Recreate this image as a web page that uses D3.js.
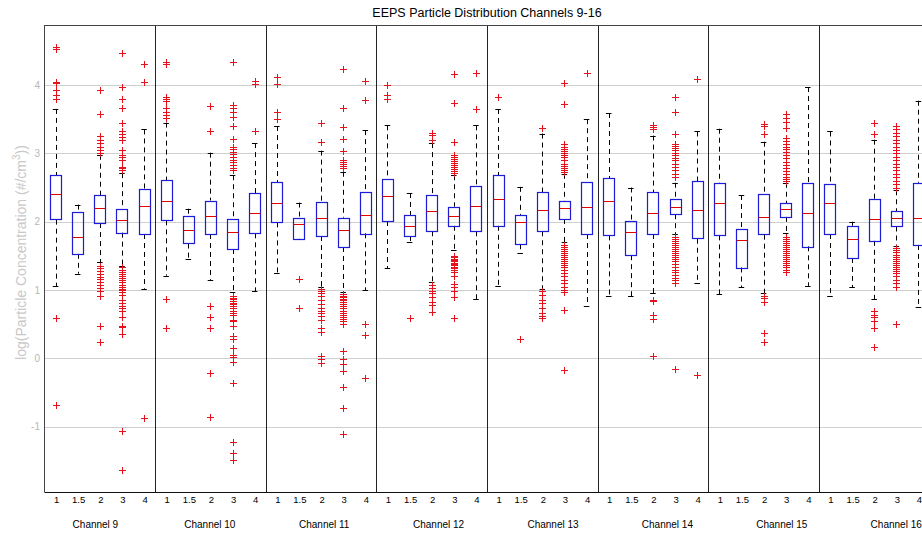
<!DOCTYPE html>
<html><head><meta charset="utf-8">
<script src="https://cdn.jsdelivr.net/npm/d3@7/dist/d3.min.js"></script>
<style>
body{margin:0;background:#fff;}
svg{display:block;font-family:"Liberation Sans",Arial,Helvetica,sans-serif;}
</style>
</head><body>
<svg id="chart" width="922" height="536"></svg>
<script>
// ---------- data ----------
const channels = ["Channel 9","Channel 10","Channel 11","Channel 12","Channel 13","Channel 14","Channel 15","Channel 16"];
const groupLabels = ["1","1.5","2","3","4"];
const yTicks = [-1,0,1,2,3,4];
const title = "EEPS Particle Distribution Channels 9-16";

const whiskerHigh = [
  3.65,2.25,2.98,2.71,3.35,
  3.45,2.19,3.01,2.68,3.15,
  3.40,2.28,3.04,2.73,3.34,
  3.41,2.42,3.15,2.68,3.41,
  3.65,2.51,3.29,2.70,3.50,
  3.59,2.50,3.26,2.57,3.32,
  3.36,2.39,3.17,2.57,3.97,
  3.32,2.00,3.20,2.46,3.77];
const q3 = [
  2.68,2.14,2.39,2.19,2.48,
  2.61,2.08,2.31,2.04,2.42,
  2.58,2.06,2.29,2.06,2.44,
  2.63,2.10,2.39,2.22,2.52,
  2.68,2.10,2.43,2.30,2.58,
  2.64,2.01,2.43,2.33,2.59,
  2.56,1.90,2.40,2.27,2.57,
  2.55,1.94,2.33,2.15,2.57];
const medians = [
  2.40,1.77,2.20,2.03,2.23,
  2.30,1.88,2.09,1.85,2.12,
  2.27,1.97,2.06,1.88,2.10,
  2.38,1.94,2.16,2.08,2.23,
  2.33,1.99,2.17,2.20,2.21,
  2.31,1.85,2.12,2.22,2.17,
  2.28,1.73,2.07,2.18,2.12,
  2.28,1.74,2.04,2.05,2.06];
const q1 = [
  2.03,1.53,1.98,1.84,1.82,
  2.02,1.68,1.82,1.60,1.83,
  1.99,1.75,1.79,1.63,1.83,
  2.01,1.79,1.86,1.94,1.86,
  1.94,1.67,1.86,2.04,1.82,
  1.80,1.51,1.82,2.11,1.75,
  1.80,1.33,1.81,2.07,1.64,
  1.82,1.47,1.72,1.93,1.66];
const whiskerLow = [
  1.06,1.24,1.41,1.35,1.02,
  1.21,1.46,1.15,0.97,0.98,
  1.25,1.74,1.04,0.97,1.00,
  1.32,1.70,1.12,1.58,0.87,
  1.06,1.54,1.01,1.70,0.76,
  0.91,0.91,0.95,1.82,1.10,
  0.94,1.04,0.95,1.83,1.06,
  0.91,1.04,0.87,1.65,0.75];
const outliers = [
  // Channel 9
  [4.56,4.52,4.05,4.03,3.93,3.85,3.79,0.59,-0.68],
  [],
  [3.93,3.57,3.25,3.20,3.15,3.10,3.05,3.01,1.35,1.32,1.28,1.24,1.19,1.16,1.12,1.07,1.03,0.98,0.91,0.47,0.24],
  [4.47,3.97,3.80,3.67,3.66,3.44,3.32,3.28,3.24,3.20,3.05,2.98,2.95,2.90,2.80,2.78,2.76,1.33,1.30,1.27,1.24,1.20,1.17,1.15,1.12,1.08,1.05,1.02,1.00,0.97,0.93,0.86,0.81,0.77,0.73,0.70,0.61,0.48,0.46,0.36,-1.06,-1.63],
  [4.31,4.05,-0.87],
  // Channel 10
  [4.34,4.31,3.83,3.80,3.76,3.66,3.61,3.56,3.51,0.87,0.44],
  [],
  [3.70,3.33,0.77,0.60,0.45,-0.21,-0.86],
  [4.34,3.71,3.66,3.61,3.53,3.40,3.21,3.10,3.06,3.02,2.99,2.95,2.91,2.87,2.83,2.78,2.75,0.91,0.89,0.87,0.84,0.81,0.79,0.76,0.73,0.70,0.67,0.64,0.56,0.54,0.47,0.33,0.28,0.15,0.05,0.02,-0.05,-0.36,-1.22,-1.38,-1.49],
  [4.06,4.02,3.32],
  // Channel 11
  [4.11,4.02,3.61,3.50],
  [1.16,0.74],
  [3.45,3.16,1.02,0.99,0.95,0.91,0.85,0.80,0.73,0.70,0.66,0.62,0.56,0.44,0.38,0.03,-0.01,-0.07],
  [4.23,3.67,3.38,3.21,3.04,2.90,2.87,2.84,2.81,2.78,0.94,0.92,0.90,0.87,0.85,0.82,0.80,0.77,0.74,0.70,0.66,0.63,0.60,0.57,0.54,0.50,0.11,-0.01,-0.08,-0.19,-0.42,-0.72,-1.11],
  [4.06,3.78,0.50,0.34,-0.28],
  // Channel 12
  [4.00,3.85,3.80],
  [0.59],
  [3.30,3.27,3.20,1.07,1.03,0.99,0.95,0.90,0.82,0.78,0.68],
  [4.16,3.73,3.16,2.98,2.95,2.92,2.89,2.86,2.83,2.80,2.77,2.74,2.71,1.50,1.48,1.46,1.44,1.42,1.40,1.38,1.36,1.34,1.32,1.30,1.27,1.21,1.09,1.05,0.98,0.90,0.59],
  [4.17,3.65],
  // Channel 13
  [3.83],
  [0.28],
  [3.37,0.98,0.93,0.86,0.81,0.73,0.66,0.62,0.59],
  [4.03,3.72,3.13,3.10,3.07,3.04,3.01,2.98,2.95,2.90,2.85,2.82,2.79,2.76,2.73,1.66,1.63,1.60,1.57,1.54,1.51,1.48,1.45,1.42,1.39,1.36,1.33,1.30,1.25,1.20,1.15,1.10,1.05,1.00,0.97,0.71,-0.17],
  [4.18],
  // Channel 14
  [],
  [],
  [3.42,3.39,3.35,0.86,0.84,0.64,0.57,0.03],
  [3.82,3.61,3.28,3.14,3.11,3.08,3.05,3.00,2.97,2.93,2.90,2.85,2.80,2.75,2.70,2.66,1.78,1.75,1.72,1.69,1.66,1.63,1.60,1.57,1.54,1.51,1.48,1.45,1.42,1.38,1.34,1.30,1.26,1.22,1.18,1.14,1.10,-0.16],
  [4.09,-0.24],
  // Channel 15
  [],
  [],
  [3.43,3.40,3.28,0.91,0.88,0.82,0.37,0.24],
  [3.58,3.52,3.46,3.37,3.22,3.18,3.14,3.10,3.06,3.02,2.98,2.93,2.88,2.83,2.78,2.74,2.70,2.66,2.62,2.59,1.78,1.75,1.72,1.69,1.66,1.63,1.60,1.57,1.54,1.51,1.48,1.45,1.42,1.39,1.36,1.33,1.30,1.27],
  [],
  // Channel 16
  [],
  [],
  [3.44,3.29,0.69,0.63,0.60,0.54,0.44,0.17],
  [3.40,3.35,3.30,3.25,3.20,3.15,3.10,3.05,3.00,2.95,2.90,2.85,2.80,2.75,2.70,2.65,2.60,2.55,2.50,1.61,1.58,1.55,1.52,1.49,1.46,1.43,1.40,1.37,1.34,1.31,1.28,1.25,1.20,1.15,1.10,1.05,0.50],
  []
];

// ---------- layout ----------
const svg = d3.select("#chart");
const plot = {left:44.5, top:25, bottom:492, right:929.5};
const nBoxes = channels.length * groupLabels.length;

const x = d3.scaleLinear().domain([0.5, nBoxes + 0.5]).range([plot.left, plot.right]);
const y = d3.scaleLinear().domain([-1.955, 4.878]).range([plot.bottom, plot.top]);
const labelX = d3.scaleLinear().domain([0, channels.length - 1]).range([95.4, 896.2]);

const boxes = d3.range(nBoxes).map(i => ({
  pos: i + 1,
  label: groupLabels[i % groupLabels.length],
  hi: whiskerHigh[i], q3: q3[i], med: medians[i], q1: q1[i], lo: whiskerLow[i],
  out: outliers[i]
}));

const unit = x(2) - x(1);
const boxW = unit * 0.5;
const capW = unit * 0.25;
const snap = v => Math.round(v) + 0.5;

// grid lines
svg.append("g").selectAll("line").data(yTicks).join("line")
  .attr("x1", plot.left).attr("x2", plot.right)
  .attr("y1", d => snap(y(d))).attr("y2", d => snap(y(d)))
  .attr("stroke", "#cfcfcf").attr("stroke-width", 1);

// group dividers
svg.append("g").selectAll("line").data(d3.range(1, channels.length)).join("line")
  .attr("x1", d => snap(x(d * groupLabels.length + 0.5)))
  .attr("x2", d => snap(x(d * groupLabels.length + 0.5)))
  .attr("y1", plot.top).attr("y2", plot.bottom)
  .attr("stroke", "#222").attr("stroke-width", 1);

const g = svg.append("g");
const bx = g.selectAll("g.box").data(boxes).join("g").attr("class", "box");

// whiskers (dashed)
bx.append("line")
  .attr("x1", d => snap(x(d.pos))).attr("x2", d => snap(x(d.pos)))
  .attr("y1", d => y(d.hi)).attr("y2", d => y(d.q3))
  .attr("stroke", "#000").attr("stroke-dasharray", "5,4");
bx.append("line")
  .attr("x1", d => snap(x(d.pos))).attr("x2", d => snap(x(d.pos)))
  .attr("y1", d => y(d.q1)).attr("y2", d => y(d.lo))
  .attr("stroke", "#000").attr("stroke-dasharray", "5,4");
// caps
bx.append("line")
  .attr("x1", d => x(d.pos) - capW / 2).attr("x2", d => x(d.pos) + capW / 2)
  .attr("y1", d => snap(y(d.hi))).attr("y2", d => snap(y(d.hi)))
  .attr("stroke", "#000");
bx.append("line")
  .attr("x1", d => x(d.pos) - capW / 2).attr("x2", d => x(d.pos) + capW / 2)
  .attr("y1", d => snap(y(d.lo))).attr("y2", d => snap(y(d.lo)))
  .attr("stroke", "#000");
// box
bx.append("rect")
  .attr("x", d => snap(x(d.pos) - boxW / 2))
  .attr("width", Math.round(boxW))
  .attr("y", d => snap(y(d.q3)))
  .attr("height", d => Math.round(y(d.q1) - y(d.q3)))
  .attr("fill", "none").attr("stroke", "#1c1cd8").attr("stroke-width", 1.2);
// median
bx.append("line")
  .attr("x1", d => snap(x(d.pos) - boxW / 2)).attr("x2", d => snap(x(d.pos) - boxW / 2) + Math.round(boxW))
  .attr("y1", d => snap(y(d.med))).attr("y2", d => snap(y(d.med)))
  .attr("stroke", "#e00000");
// outliers
bx.selectAll("path.out").data(d => d.out.map(v => ({pos: d.pos, v}))).join("path")
  .attr("class", "out")
  .attr("transform", d => `translate(${snap(x(d.pos))},${snap(y(d.v))})`)
  .attr("d", "M-3.5,0H3.5M0,-3.5V3.5")
  .attr("stroke", "#e8101a").attr("stroke-width", 1).attr("fill", "none");

// axes frame
svg.append("line").attr("x1", plot.left).attr("x2", plot.right)
  .attr("y1", plot.top + 0.5).attr("y2", plot.top + 0.5).attr("stroke", "#444");
svg.append("line").attr("x1", plot.left).attr("x2", plot.left)
  .attr("y1", plot.top).attr("y2", plot.bottom).attr("stroke", "#444");
svg.append("line").attr("x1", plot.left).attr("x2", plot.right)
  .attr("y1", plot.bottom + 0.5).attr("y2", plot.bottom + 0.5).attr("stroke", "#111");

// y tick labels
svg.append("g").selectAll("text").data(yTicks).join("text")
  .attr("x", 40).attr("y", d => y(d)).attr("dy", "0.35em")
  .attr("text-anchor", "end").attr("font-size", 10).attr("fill", "#b8b8b8")
  .text(d => d);

// x tick labels
svg.append("g").selectAll("text").data(boxes).join("text")
  .attr("x", d => x(d.pos) + 1).attr("y", 503)
  .attr("text-anchor", "middle").attr("font-size", 9.5).attr("fill", "#000")
  .text(d => d.label);

// channel labels
svg.append("g").selectAll("text").data(channels).join("text")
  .attr("x", (d, i) => labelX(i)).attr("y", 528)
  .attr("text-anchor", "middle").attr("font-size", 10).attr("fill", "#000")
  .text(d => d);

// title
svg.append("text").attr("x", (plot.left + plot.right) / 2).attr("y", 17)
  .attr("text-anchor", "middle").attr("font-size", 12.5).attr("fill", "#000")
  .text(title);

// y label
const yl = svg.append("text")
  .attr("transform", `translate(26,${(plot.top + plot.bottom) / 2 - 6}) rotate(-90)`)
  .attr("text-anchor", "middle").attr("font-size", 14).attr("fill", "#c8c8c8");
yl.append("tspan").text("log(Particle Concentration (#/cm");
yl.append("tspan").attr("font-size", 10).attr("dy", -6).text("3");
yl.append("tspan").attr("dy", 6).text("))");
</script>
</body></html>
